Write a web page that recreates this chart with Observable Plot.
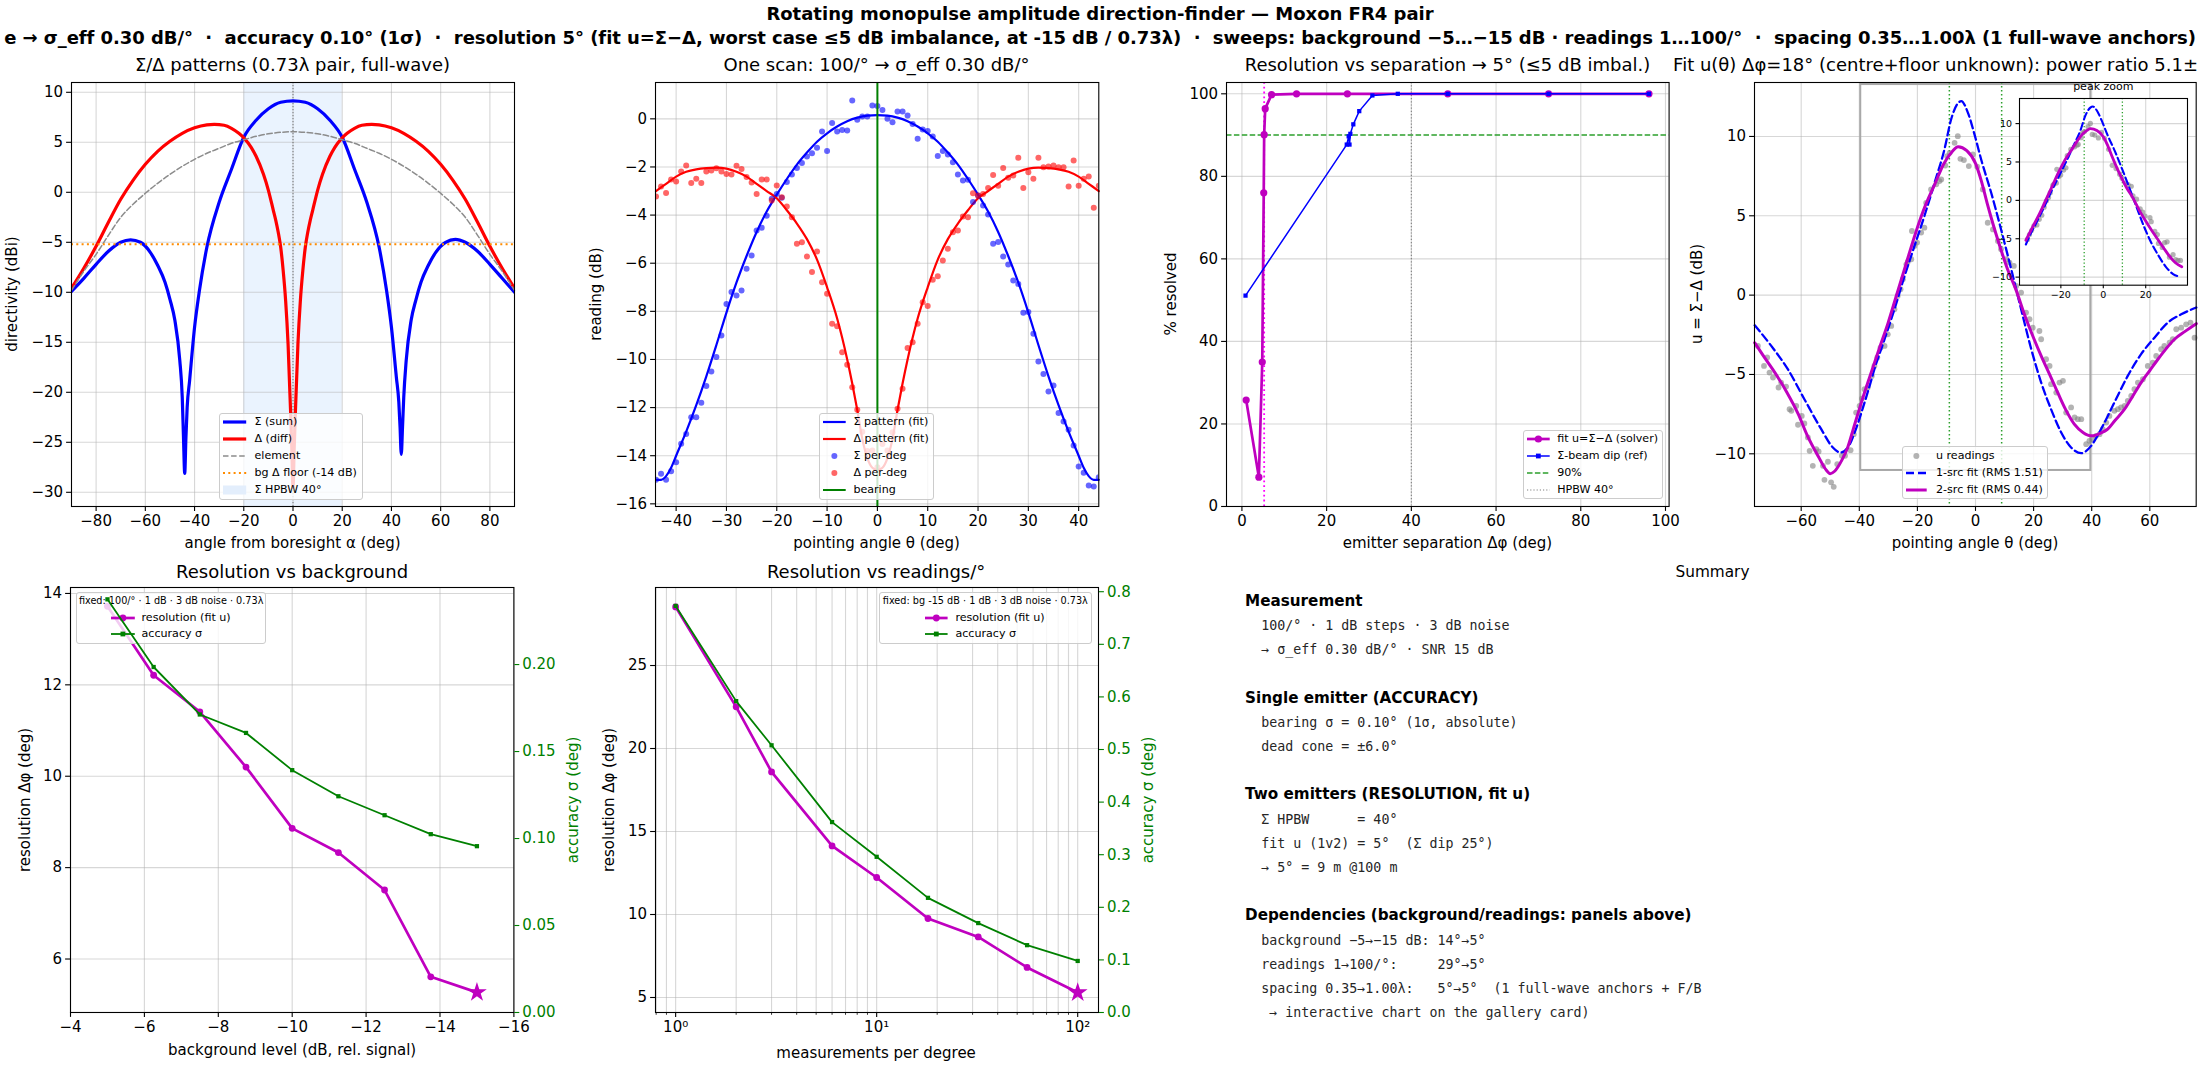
<!DOCTYPE html>
<html>
<head>
<meta charset="utf-8">
<script src="https://cdn.jsdelivr.net/npm/d3@7"></script>
<script src="https://cdn.jsdelivr.net/npm/@observablehq/plot@0.6"></script>
<style>
  html, body { margin: 0; padding: 0; background: #fff; overflow: hidden; }
  #fig { position: relative; width: 2200px; height: 1067px; overflow: hidden; background: #fff; font-family: "DejaVu Sans", sans-serif; color: #000; }
  .t { position: absolute; white-space: pre; line-height: 1; }
  .leg { position: absolute; box-sizing: border-box; border: 1px solid #cccccc; border-radius: 3px; background: rgba(255,255,255,0.8); }
</style>
</head>
<body>
<div id="fig"></div>
<script>
// ---------------- DATA ----------------
// Panel 1: Σ/Δ patterns
const sumAngle = [-90,-85,-80,-75,-70,-66,-62,-58,-55,-52,-50,-48,-46,-45,-44.5,-44,-43.5,-43,-42,-40,-38,-35,-30,-25,-20,-15,-10,-5,0,5,10,15,20,25,30,35,38,40,42,43,43.5,44,44.5,45,46,48,50,52,55,58,62,66,70,75,80,85,90];
const sumDb = [-9.9,-8.6,-7.2,-5.9,-5.0,-4.75,-5.0,-6.0,-7.3,-9.0,-10.7,-12.8,-16.8,-20.5,-24.5,-28.1,-24.5,-21.5,-18.8,-13.5,-9.8,-5.5,-1.0,2.3,5.5,7.2,8.35,9.0,9.15,9.0,8.35,7.2,5.5,2.3,-1.0,-5.5,-9.8,-13.5,-18.5,-21.0,-23.5,-26.2,-23.5,-20.5,-16.8,-12.8,-10.7,-9.0,-7.3,-6.0,-5.0,-4.7,-5.0,-5.9,-7.2,-8.6,-10.0];
const diffAngle = [-90,-85,-80,-75,-70,-65,-60,-55,-50,-45,-40,-35,-32,-28,-25,-22,-20,-17,-15,-12,-10,-8,-7,-6,-5,-4,-3,-2,-1,-0.5,0,0.5,1,2,3,4,5,6,7,8,10,12,15,17,20,22,25,28,32,35,40,45,50,55,60,65,70,75,80,85,90];
const diffDb = [-9.6,-7.6,-5.4,-3.0,-0.7,1.2,2.8,4.1,5.1,5.9,6.45,6.75,6.8,6.7,6.4,5.9,5.45,4.5,3.6,1.8,0.2,-1.8,-2.8,-4.0,-5.5,-7.8,-10.8,-15.2,-21.8,-25.5,-29.5,-25.5,-21.8,-15.2,-10.8,-7.8,-5.5,-4.0,-2.8,-1.8,0.2,1.8,3.6,4.5,5.45,5.9,6.4,6.7,6.8,6.75,6.45,5.9,5.1,4.1,2.8,1.2,-0.7,-3.0,-5.4,-7.6,-9.6];
const elemAngle = [-90,-85,-80,-75,-70,-65,-60,-55,-50,-45,-40,-35,-30,-25,-20,-15,-10,-5,0,5,10,15,20,25,30,35,40,45,50,55,60,65,70,75,80,85,90];
const elemDb = [-9.8,-7.9,-6.2,-4.3,-2.5,-1.2,-0.1,0.9,1.8,2.6,3.3,3.9,4.4,4.9,5.25,5.6,5.85,6.0,6.05,6.0,5.85,5.6,5.25,4.9,4.4,3.9,3.3,2.6,1.8,0.9,-0.1,-1.2,-2.5,-4.3,-6.2,-7.9,-9.8];
const bgFloor = [-5.2];
const hpbwBand = [-20, 20];
const boresight = [0];
const p1XTicks = [-80,-60,-40,-20,0,20,40,60,80];
const p1YTicks = [-30,-25,-20,-15,-10,-5,0,5,10];

// Panel 2: one scan
const scanAngle = [-44,-43,-42,-41,-40,-39,-38,-37,-36,-35,-34,-33,-32,-31,-30,-29,-28,-27,-26,-25,-24,-23,-22,-21,-20,-19,-18,-17,-16,-15,-14,-13,-12,-11,-10,-9,-8,-7,-6,-5,-4,-3,-2,-1,0,1,2,3,4,5,6,7,8,9,10,11,12,13,14,15,16,17,18,19,20,21,22,23,24,25,26,27,28,29,30,31,32,33,34,35,36,37,38,39,40,41,42,43,44];
const sumRead = [-15.0,-14.75,-15.0,-14.65,-14.27,-13.5,-13.1,-12.4,-12.4,-11.8,-11.1,-10.5,-9.9,-9.0,-7.7,-7.2,-7.34,-7.13,-6.23,-5.68,-4.64,-4.53,-4.03,-3.32,-3.12,-3.28,-2.63,-2.31,-2.04,-1.84,-1.57,-1.43,-1.2,-0.53,-1.34,-0.17,-0.53,-0.46,-0.48,0.76,-0.04,0.1,0.1,0.55,0.53,0.37,0.0,-0.14,0.3,0.3,0.14,-0.21,-0.83,-0.44,-0.51,-0.73,-1.54,-1.34,-1.48,-1.8,-2.31,-2.56,-2.53,-3.46,-3.19,-3.6,-3.98,-5.19,-5.12,-5.72,-6.05,-6.72,-6.86,-8.06,-8.03,-8.93,-10.08,-10.6,-11.33,-11.08,-12.22,-12.58,-12.92,-13.58,-14.45,-14.71,-15.24,-15.28,-14.9];
const diffRead = [-3.23,-2.81,-3.08,-2.52,-2.60,-2.19,-1.94,-2.67,-2.49,-2.67,-2.19,-2.15,-2.05,-2.19,-2.29,-2.31,-1.95,-2.08,-2.42,-2.65,-3.12,-2.52,-2.52,-3.39,-2.77,-3.26,-3.64,-4.09,-5.19,-5.13,-5.72,-6.37,-5.51,-6.79,-7.27,-8.52,-8.62,-9.70,-10.22,-11.15,-12.09,-13.0,-13.8,-13.78,-14.48,-13.51,-13.78,-13.02,-12.05,-11.22,-9.52,-9.28,-8.52,-7.62,-7.78,-6.69,-6.54,-5.89,-5.40,-4.71,-4.64,-4.06,-4.09,-3.09,-3.19,-3.12,-2.87,-2.33,-2.78,-2.04,-2.45,-2.35,-1.62,-2.87,-2.22,-2.49,-1.62,-2.01,-1.98,-1.94,-2.01,-2.01,-2.81,-1.73,-2.78,-2.49,-2.40,-3.70,-2.78];
const sumFitAngle = [-44,-43,-42,-41,-40,-38,-36,-34,-32,-30,-28,-26,-24,-22,-20,-18,-16,-14,-12,-10,-8,-6,-4,-2,0,2,4,6,8,10,12,14,16,18,20,22,24,26,28,30,32,34,36,38,40,41,42,43,44];
const sumFit = [-15.0,-15.0,-14.85,-14.5,-14.0,-13.0,-11.9,-10.7,-9.4,-8.05,-6.8,-5.7,-4.7,-3.85,-3.15,-2.5,-1.9,-1.4,-0.95,-0.6,-0.32,-0.1,0.05,0.13,0.15,0.13,0.05,-0.1,-0.32,-0.6,-0.95,-1.4,-1.9,-2.5,-3.15,-3.85,-4.7,-5.7,-6.8,-8.05,-9.4,-10.7,-11.9,-13.0,-14.0,-14.5,-14.85,-15.0,-15.0];
const diffFitAngle = [-44,-42,-40,-38,-36,-34,-32,-30,-28,-26,-24,-22,-20,-18,-16,-14,-12,-10,-8,-6,-5,-4,-3,-2,-1,0,1,2,3,4,5,6,8,10,12,14,16,18,20,22,24,26,28,30,32,34,36,38,40,42,44];
const diffFit = [-3.0,-2.7,-2.4,-2.2,-2.1,-2.05,-2.03,-2.07,-2.2,-2.4,-2.7,-3.0,-3.3,-3.8,-4.35,-5.0,-5.85,-7.0,-8.3,-10.0,-11.0,-12.1,-13.3,-14.1,-14.5,-14.6,-14.5,-14.1,-13.3,-12.1,-11.0,-10.0,-8.3,-7.0,-5.85,-5.0,-4.35,-3.8,-3.3,-3.0,-2.7,-2.4,-2.2,-2.07,-2.03,-2.05,-2.1,-2.2,-2.4,-2.7,-3.0];
const bearing = [0];
const p2XTicks = [-40,-30,-20,-10,0,10,20,30,40];
const p2YTicks = [-16,-14,-12,-10,-8,-6,-4,-2,0];

// Panel 3: resolution vs separation
const sepFit = [1.0,4.0,4.8,5.15,5.25,5.5,7.0,12.9,24.9,48.6,72.4,96.1];
const pctFit = [25.8,7.1,35.0,76.0,90.1,96.4,99.8,100,100,100,100,100];
const sepDip = [0.85,24.75,25.2,25.4,25.6,26.3,27.7,30.8,36.8,48.6,72.4,96.1];
const pctDip = [51.1,87.7,89.7,87.7,90.3,92.6,95.8,99.6,100,100,100,100];
const ref90 = [90];
const hpbwSep = [40];
const resSep = [5.25];
const p3XTicks = [0,20,40,60,80,100];
const p3YTicks = [0,20,40,60,80,100];

// Panel 4: fit u(θ)
const uTheta = [-74.9,-72.8,-71.7,-70.9,-69.7,-67.8,-66.9,-65.2,-64.0,-63.4,-61.7,-61.1,-59.8,-58.9,-57.7,-57.1,-56.0,-54.8,-54.0,-52.5,-52.0,-50.8,-49.7,-48.8,-47.6,-46.0,-44.9,-43.0,-41.9,-41.1,-39.9,-39.1,-38.2,-37.1,-35.7,-34.8,-33.8,-32.7,-31.3,-30.2,-29.0,-27.9,-26.8,-25.8,-25.0,-23.8,-23.3,-22.1,-21.9,-21.0,-20.1,-18.7,-17.6,-17.0,-15.3,-13.5,-12.4,-11.8,-10.4,-9.75,-8.9,-7.2,-6.1,-5.2,-4.0,-2.3,-0.9,0.6,2.5,4.2,6.0,7.7,8.8,10.6,11.7,13.2,14.0,15.7,17.4,18.6,19.7,22.0,22.6,24.3,25.5,26.0,27.8,28.9,30.1,31.2,32.9,34.1,35.2,36.4,38.1,39.2,40.4,41.5,42.7,43.8,45.0,46.1,47.8,49.0,50.1,51.3,52.4,53.6,54.7,55.9,57.6,59.3,61.0,62.2,63.9,65.0,66.8,67.9,69.1,70.8,72.5,74.0,75.4];
const uRead = [-3.2,-4.46,-3.93,-4.88,-5.19,-5.82,-5.51,-5.76,-7.19,-7.29,-6.98,-8.17,-7.61,-8.09,-8.97,-9.81,-10.76,-9.71,-9.85,-10.76,-11.64,-10.50,-11.80,-12.08,-10.65,-10.13,-10.13,-9.77,-8.76,-7.40,-6.98,-6.52,-5.93,-5.82,-5.09,-4.46,-3.93,-3.31,-3.20,-2.47,-1.94,-0.89,-0.05,0.37,1.0,1.94,2.11,2.26,4.04,3.10,3.31,3.94,4.25,5.82,6.66,6.98,7.19,7.29,8.17,8.76,8.97,9.60,10.02,8.59,8.51,8.13,8.87,8.09,6.66,4.56,4.14,3.41,2.89,2.26,2.05,1.84,0.58,0.16,-1.10,-1.52,-2.05,-2.26,-2.78,-4.04,-4.46,-5.61,-6.14,-5.51,-5.40,-7.40,-7.08,-7.71,-7.82,-7.82,-9.39,-9.18,-9.08,-8.87,-8.76,-8.45,-8.03,-7.61,-7.29,-7.19,-7.08,-6.98,-6.66,-6.35,-5.93,-5.51,-5.30,-4.46,-4.25,-3.83,-3.41,-3.20,-2.99,-2.78,-2.15,-2.05,-1.84,-1.73,-2.68];
const fit1Theta = [-76,-70.3,-64.6,-58.9,-53.1,-49.1,-46.5,-43.9,-41.6,-38.2,-36.5,-34.8,-31.3,-27.9,-24.4,-21.0,-17.6,-14.1,-10.7,-8.4,-6.1,-4.9,-2.6,-0.3,1.95,5.4,8.8,12.3,15.7,19.2,22.6,26.0,29.5,32.9,36.4,39.8,43.2,47.8,52.4,57.0,61.6,66.2,70.8,76];
const fit1U = [-1.9,-3.2,-4.67,-6.56,-8.45,-9.6,-9.92,-9.6,-8.66,-6.77,-5.75,-4.67,-2.78,-0.89,1.21,3.1,4.98,7.08,9.18,11.07,12.08,12.23,11.49,10.1,8.55,6.45,4.14,1.63,-0.89,-3.41,-5.51,-7.19,-8.66,-9.6,-9.96,-9.5,-8.45,-6.77,-5.09,-3.72,-2.68,-1.73,-1.21,-0.78];
const fit2Theta = [-76,-72,-69,-65,-61,-58,-54,-51.5,-50,-48.5,-46,-44,-42,-39,-36.5,-33,-30,-27.5,-24,-21,-18,-14,-11,-8,-6,-3,0,2,4,6,8,11,14,17,20,22.6,25.5,28.3,31,34,37,40,43,45.5,48,51.3,54,57,60,62.8,65.5,68.5,72,76];
const fit2U = [-3.0,-4.1,-4.9,-6.1,-7.5,-8.8,-10.2,-11.0,-11.25,-11.1,-10.4,-9.6,-8.4,-6.6,-5.2,-3.3,-1.7,-0.2,1.9,3.7,5.3,7.0,8.25,9.05,9.35,9.1,8.3,7.2,5.8,4.5,3.3,1.65,0.3,-1.3,-2.7,-3.83,-5.0,-6.14,-7.2,-8.13,-8.65,-8.87,-8.7,-8.45,-7.9,-7.19,-6.4,-5.51,-4.75,-4.04,-3.4,-2.78,-2.3,-1.8];
const emitters = [-9, 9];
const insetX = [-39.5, 39.7];
const insetY = [-11.05, 13.27];
const insetRange = [-36.5, 37];
const p4XTicks = [-60,-40,-20,0,20,40,60];
const p4YTicks = [-10,-5,0,5,10];
const inXTicks = [-20,0,20];
const inYTicks = [-10,-5,0,5,10];

// Bottom-left: resolution vs background
const bgLevel = [-5,-6.25,-7.5,-8.75,-10,-11.25,-12.5,-13.75,-15];
const bgRes = [13.72,12.21,11.41,10.20,8.86,8.33,7.51,5.61,5.27];
const bgAcc = [0.2375,0.1986,0.1713,0.1607,0.1393,0.1243,0.1134,0.1025,0.0956];
const b1XTicks = [-4,-6,-8,-10,-12,-14,-16];
const b1YTicks = [6,8,10,12,14];
const b1RTicks = [0,0.05,0.10,0.15,0.20];

// Bottom-middle: resolution vs readings/°
const rdN = [1,2,3,6,10,18,32,56,100];
const rdRes = [28.53,22.51,18.59,14.13,12.23,9.76,8.65,6.81,5.30];
const rdAcc = [0.773,0.592,0.508,0.362,0.296,0.218,0.170,0.128,0.098];
const b2Major = [1,10,100];
const b2Minor = [0.8,0.9,2,3,4,5,6,7,8,9,20,30,40,50,60,70,80,90];
const b2YTicks = [5,10,15,20,25];
const b2RTicks = [0,0.1,0.2,0.3,0.4,0.5,0.6,0.7,0.8];

// Texts
const title1 = "Rotating monopulse amplitude direction-finder — Moxon FR4 pair";
const title2 = "e → σ_eff 0.30 dB/°  ·  accuracy 0.10° (1σ)  ·  resolution 5° (fit u=Σ−Δ, worst case ≤5 dB imbalance, at -15 dB / 0.73λ)  ·  sweeps: background −5…−15 dB · readings 1…100/°  ·  spacing 0.35…1.00λ (1 full-wave anchors)";
const p4Title = "Fit u(θ) Δφ=18° (centre+floor unknown): power ratio 5.1±";
const summarySections = [
  {head: "Measurement", lines: ["100/° · 1 dB steps · 3 dB noise", "→ σ_eff 0.30 dB/° · SNR 15 dB"]},
  {head: "Single emitter (ACCURACY)", lines: ["bearing σ = 0.10° (1σ, absolute)", "dead cone = ±6.0°"]},
  {head: "Two emitters (RESOLUTION, fit u)", lines: ["Σ HPBW      = 40°", "fit u (1v2) = 5°  (Σ dip 25°)", "→ 5° = 9 m @100 m"]},
  {head: "Dependencies (background/readings: panels above)", lines: ["background −5→−15 dB: 14°→5°", "readings 1→100/°:     29°→5°", "spacing 0.35→1.00λ:   5°→5°  (1 full-wave anchors + F/B", " → interactive chart on the gallery card)"]}
];

// ---------------- RENDERING ----------------
const fig = document.getElementById("fig");
const SANS = '"DejaVu Sans", sans-serif';
const MONO = '"DejaVu Sans Mono", monospace';
const FS = 15, TS = 18, LS = 11.1;
const BLUE = "#0000ff", RED = "#ff0000", MAG = "#bf00bf", GRN = "#008000", TGRN = "#2ca02c";
const fmtI = d3.format("d");
const GRID = {stroke: "#b0b0b0", strokeOpacity: 0.5, strokeWidth: 1.1};
const AX = {tickSize: 4.9, tickPadding: 3.5, strokeWidth: 1.1, label: null};

function txt(s, x, y, o = {}) {
  const d = document.createElement("div");
  d.className = "t";
  d.textContent = s;
  d.style.left = x + "px";
  d.style.top = y + "px";
  d.style.fontSize = (o.size || FS) + "px";
  d.style.fontFamily = o.family || SANS;
  d.style.fontWeight = o.weight || "normal";
  d.style.color = o.color || "#000";
  const a = o.anchor || "middle";
  const tx = a === "middle" ? "-50%" : a === "end" ? "-100%" : "0";
  d.style.transform = `translate(${tx},-50%)` + (o.rot ? " rotate(-90deg)" : "");
  fig.appendChild(d);
  return d;
}

function panel(o) {
  const ml = o.ml ?? 60, mr = o.mr ?? 60, mt = o.mt ?? 10, mb = o.mb ?? 40;
  const svg = Plot.plot({
    width: o.W + ml + mr, height: o.H + mt + mb,
    marginLeft: ml, marginRight: mr, marginTop: mt, marginBottom: mb,
    x: {label: null, ...o.x}, y: {label: null, ...o.y},
    style: {fontFamily: SANS, fontSize: (o.fs || FS) + "px", background: "transparent", overflow: "visible", maxWidth: "none", color: "#000"},
    marks: o.marks
  });
  svg.style.position = "absolute";
  svg.style.left = (o.L - ml) + "px";
  svg.style.top = (o.T - mt) + "px";
  fig.appendChild(svg);
  return svg;
}
const axX = (ticks, fmt = fmtI, o = {}) => Plot.axisX({...AX, ticks, tickFormat: fmt, ...o});
const axY = (ticks, fmt = fmtI, o = {}) => Plot.axisY({...AX, ticks, tickFormat: fmt, ...o});
const grX = ticks => Plot.gridX(ticks, GRID);
const grY = ticks => Plot.gridY(ticks, GRID);
const frame = () => Plot.frame({stroke: "#000", strokeWidth: 1.1});

function swatch(it, x1, x2, y) {
  const w = x2 - x1, h = 16, c = h / 2;
  let s = `<svg xmlns="http://www.w3.org/2000/svg" width="${w}" height="${h}" style="position:absolute;left:${x1}px;top:${y - c}px;overflow:visible">`;
  if (it.rect) s += `<rect x="0" y="${c - 4.5}" width="${w}" height="9" fill="${it.rect}"/>`;
  if (it.line) s += `<line x1="0" y1="${c}" x2="${w}" y2="${c}" stroke="${it.color}" stroke-width="${it.sw}"${it.dash ? ` stroke-dasharray="${it.dash}"` : ""}/>`;
  if (it.marker === "circle") s += `<circle cx="${w / 2}" cy="${c}" r="${it.mr}" fill="${it.mcolor || it.color}" fill-opacity="${it.mop ?? 1}"/>`;
  if (it.marker === "square") s += `<rect x="${w / 2 - it.mr}" y="${c - it.mr}" width="${2 * it.mr}" height="${2 * it.mr}" fill="${it.mcolor || it.color}"/>`;
  s += `</svg>`;
  const tmp = document.createElement("div");
  tmp.innerHTML = s;
  fig.appendChild(tmp.firstChild);
}
function legend(box, items, o) {
  const d = document.createElement("div");
  d.className = "leg";
  Object.assign(d.style, {left: box[0] + "px", top: box[1] + "px", width: (box[2] - box[0]) + "px", height: (box[3] - box[1]) + "px"});
  fig.appendChild(d);
  if (o.title) txt(o.title, (box[0] + box[2]) / 2, o.titleY, {size: o.titleSize});
  items.forEach((it, i) => {
    const y = o.rowY[i];
    swatch(it, o.sx[0], o.sx[1], y);
    txt(it.label, o.tx, y, {size: o.size || LS, anchor: "start"});
  });
}

// ---- Suptitle
txt(title1, 1100, 14, {size: 18, weight: "bold"});
const t2 = txt(title2, 1100, 38, {size: 18, weight: "bold"});
{
  const w = t2.getBoundingClientRect().width;
  const ls = Math.max(-1.2, Math.min(1.2, (2190 - w) / title2.length));
  t2.style.letterSpacing = ls + "px";
}

// ---- Panel 1
const P1 = {L: 71, T: 82, W: 443, H: 424};
panel({...P1, x: {domain: [-90, 90]}, y: {domain: [-31.42, 10.98]}, marks: [
  Plot.rect([hpbwBand], {x1: d => d[0], x2: d => d[1], y1: () => -31.42, y2: () => 10.98, fill: "#eaf3fe"}),
  grX(p1XTicks), grY(p1YTicks),
  Plot.ruleX(boresight, {stroke: "#000", strokeOpacity: 0.55, strokeWidth: 0.9, strokeDasharray: "1.2,1.8"}),
  Plot.line(sumAngle, {x: sumAngle, y: sumDb, stroke: BLUE, strokeWidth: 3.2, curve: "monotone-x", clip: true}),
  Plot.line(diffAngle, {x: diffAngle, y: diffDb, stroke: RED, strokeWidth: 3.2, curve: "monotone-x", clip: true}),
  Plot.line(elemAngle, {x: elemAngle, y: elemDb, stroke: "#8c8c8c", strokeWidth: 1.5, strokeDasharray: "5.5,2.6", curve: "monotone-x"}),
  Plot.ruleY(bgFloor, {stroke: "#ff8c00", strokeWidth: 2, strokeDasharray: "2,3.3"}),
  axX(p1XTicks), axY(p1YTicks), frame()
]});
txt("Σ/Δ patterns (0.73λ pair, full-wave)", 292.5, 65, {size: TS});
txt("directivity (dBi)", 12.1, 294, {rot: true});
txt("angle from boresight α (deg)", 292.5, 543.3);
legend([219.1, 412.7, 363.5, 500], [
  {label: "Σ (sum)", line: true, color: BLUE, sw: 3.2},
  {label: "Δ (diff)", line: true, color: RED, sw: 3.2},
  {label: "element", line: true, color: "#8c8c8c", sw: 1.5, dash: "5.5,2.6"},
  {label: "bg Δ floor (-14 dB)", line: true, color: "#ff8c00", sw: 2, dash: "2,3.3"},
  {label: "Σ HPBW 40°", rect: "#e3eefc"}
], {rowY: [422.3, 439.2, 456.1, 473, 489.9], sx: [223.3, 246.5], tx: 254.5});

// ---- Panel 2
const P2 = {L: 654.9, T: 82, W: 443.3, H: 424};
panel({...P2, x: {domain: [-44.1, 44.0]}, y: {domain: [-16.11, 1.51]}, marks: [
  grX(p2XTicks), grY(p2YTicks),
  Plot.line(sumFitAngle, {x: sumFitAngle, y: sumFit, stroke: BLUE, strokeWidth: 2.2, curve: "monotone-x"}),
  Plot.line(diffFitAngle, {x: diffFitAngle, y: diffFit, stroke: RED, strokeWidth: 2.2, curve: "monotone-x"}),
  Plot.dot(scanAngle, {x: scanAngle, y: sumRead, r: 3, fill: BLUE, fillOpacity: 0.6, clip: true}),
  Plot.dot(scanAngle, {x: scanAngle, y: diffRead, r: 3, fill: RED, fillOpacity: 0.6, clip: true}),
  Plot.ruleX(bearing, {stroke: GRN, strokeWidth: 2}),
  axX(p2XTicks), axY(p2YTicks), frame()
]});
txt("One scan: 100/° → σ_eff 0.30 dB/°", 876.5, 65, {size: TS});
txt("reading (dB)", 595.6, 294, {rot: true});
txt("pointing angle θ (deg)", 876.5, 543.3);
legend([819, 412.7, 933.8, 500], [
  {label: "Σ pattern (fit)", line: true, color: BLUE, sw: 2.2},
  {label: "Δ pattern (fit)", line: true, color: RED, sw: 2.2},
  {label: "Σ per-deg", marker: "circle", color: BLUE, mr: 3, mop: 0.6},
  {label: "Δ per-deg", marker: "circle", color: RED, mr: 3, mop: 0.6},
  {label: "bearing", line: true, color: GRN, sw: 2}
], {rowY: [422.3, 439.2, 456.1, 473, 489.9], sx: [822.5, 845.2], tx: 853.4});

// ---- Panel 3
const P3 = {L: 1226.2, T: 82, W: 442.6, H: 424};
panel({...P3, x: {domain: [-3.64, 100.85]}, y: {domain: [0, 102.74]}, marks: [
  grX(p3XTicks), grY(p3YTicks),
  Plot.ruleY(ref90, {stroke: TGRN, strokeWidth: 1.6, strokeDasharray: "5.5,2.4"}),
  Plot.ruleX(hpbwSep, {stroke: "#808080", strokeWidth: 1.1, strokeDasharray: "1.2,2"}),
  Plot.ruleX(resSep, {stroke: "#ff00ff", strokeWidth: 1.8, strokeDasharray: "1.8,3"}),
  Plot.line(sepFit, {x: sepFit, y: pctFit, stroke: MAG, strokeWidth: 2.7}),
  Plot.dot(sepFit, {x: sepFit, y: pctFit, r: 3.6, fill: MAG}),
  Plot.line(sepDip, {x: sepDip, y: pctDip, stroke: BLUE, strokeWidth: 1.5}),
  Plot.dot(sepDip, {x: sepDip, y: pctDip, symbol: "square", r: 2.4, fill: BLUE}),
  axX(p3XTicks), axY(p3YTicks), frame()
]});
txt("Resolution vs separation → 5° (≤5 dB imbal.)", 1447.5, 65, {size: TS});
txt("% resolved", 1170.5, 294, {rot: true});
txt("emitter separation Δφ (deg)", 1447.5, 543.3);
legend([1523, 430, 1663.4, 499.3], [
  {label: "fit u=Σ−Δ (solver)", line: true, color: MAG, sw: 2.7, marker: "circle", mr: 3.6},
  {label: "Σ-beam dip (ref)", line: true, color: BLUE, sw: 1.5, marker: "square", mr: 2.4},
  {label: "90%", line: true, color: TGRN, sw: 1.6, dash: "5.5,2.4"},
  {label: "HPBW 40°", line: true, color: "#808080", sw: 1.1, dash: "1.2,2"}
], {rowY: [439.2, 456.1, 473, 489.9], sx: [1526.6, 1549.3], tx: 1557.2});

// ---- Panel 4
const P4 = {L: 1754, T: 82, W: 441.7, H: 424};
const inIdx = arr => arr.map((t, i) => i).filter(i => arr[i] >= insetRange[0] && arr[i] <= insetRange[1]);
const uIdx = inIdx(uTheta), f1Idx = inIdx(fit1Theta), f2Idx = inIdx(fit2Theta);
panel({...P4, x: {domain: [-76.07, 75.96]}, y: {domain: [-13.32, 13.4]}, marks: [
  grX(p4XTicks), grY(p4YTicks),
  Plot.rect([insetX], {x1: () => insetX[0], x2: () => insetX[1], y1: () => insetY[0], y2: () => insetY[1], fill: "none", stroke: "#a8a8a8", strokeWidth: 2}),
  Plot.ruleX(emitters, {stroke: TGRN, strokeWidth: 1.5, strokeDasharray: "1.5,2.5"}),
  Plot.dot(uTheta, {x: uTheta, y: uRead, r: 2.9, fill: "#808080", fillOpacity: 0.6}),
  Plot.line(fit1Theta, {x: fit1Theta, y: fit1U, stroke: BLUE, strokeWidth: 2.3, strokeDasharray: "8,4", curve: "monotone-x"}),
  Plot.line(fit2Theta, {x: fit2Theta, y: fit2U, stroke: MAG, strokeWidth: 3, curve: "monotone-x"}),
  axX(p4XTicks), axY(p4YTicks), frame()
]});
txt(p4Title, 2198, 65, {size: TS, anchor: "end"});
txt("u = Σ−Δ (dB)", 1696.7, 294, {rot: true});
txt("pointing angle θ (deg)", 1975, 543.3);
legend([1901.7, 445.7, 2047.7, 499.3], [
  {label: "u readings", marker: "circle", color: "#808080", mr: 3, mop: 0.6},
  {label: "1-src fit (RMS 1.51)", line: true, color: BLUE, sw: 2.3, dash: "8,4"},
  {label: "2-src fit (RMS 0.44)", line: true, color: MAG, sw: 3}
], {rowY: [456.4, 473, 489.9], sx: [1906, 1926.7], tx: 1936});

// ---- Inset (peak zoom)
panel({L: 2019.3, T: 98.3, W: 168, H: 186.7, ml: 34, mr: 6, mt: 6, mb: 22, fs: 9.5,
  x: {domain: insetX}, y: {domain: insetY}, marks: [
  Plot.frame({fill: "#ffffff"}),
  grX(inXTicks), grY(inYTicks),
  Plot.ruleX(emitters, {stroke: TGRN, strokeWidth: 1.3, strokeDasharray: "1.3,2.2"}),
  Plot.dot(uIdx, {x: i => uTheta[i], y: i => uRead[i], r: 2.6, fill: "#808080", fillOpacity: 0.6}),
  Plot.line(f1Idx, {x: i => fit1Theta[i], y: i => fit1U[i], stroke: BLUE, strokeWidth: 2.1, strokeDasharray: "7,3.6", curve: "monotone-x"}),
  Plot.line(f2Idx, {x: i => fit2Theta[i], y: i => fit2U[i], stroke: MAG, strokeWidth: 2.8, curve: "monotone-x"}),
  axX(inXTicks, fmtI, {tickSize: 3.5, tickPadding: 3}), axY(inYTicks, fmtI, {tickSize: 3.5, tickPadding: 4}), frame()
]});
txt("peak zoom", 2103.3, 86, {size: 11});

// ---- Bottom-left
const B1 = {L: 70.4, T: 587.3, W: 443.4, H: 425};
panel({...B1, x: {domain: [-16, -4], reverse: true}, y: {domain: [4.83, 14.13]}, marks: [
  grX(b1XTicks), grY(b1YTicks),
  Plot.line(bgLevel, {x: bgLevel, y: bgRes, stroke: MAG, strokeWidth: 2.7}),
  Plot.dot(bgLevel, {x: bgLevel, y: bgRes, r: 3.4, fill: MAG}),
  Plot.dot([bgLevel.length - 1], {x: i => bgLevel[i], y: i => bgRes[i], symbol: "star", r: 6.2, fill: MAG}),
  axX(b1XTicks), axY(b1YTicks), frame()
]});
legend([75.8, 592.3, 266.5, 644.3], [
  {label: "resolution (fit u)", line: true, color: MAG, sw: 2.7, marker: "circle", mr: 3.4},
  {label: "accuracy σ", line: true, color: GRN, sw: 1.8, marker: "square", mr: 2.4}
], {title: "fixed: 100/° · 1 dB · 3 dB noise · 0.73λ", titleY: 601, titleSize: 9.7, rowY: [617.7, 634.3], sx: [110.8, 134.6], tx: 141.5, size: 11.1});
panel({...B1, x: {domain: [-16, -4], reverse: true, axis: null}, y: {domain: [0, 0.2443]}, marks: [
  Plot.line(bgLevel, {x: bgLevel, y: bgAcc, stroke: GRN, strokeWidth: 1.8}),
  Plot.dot(bgLevel, {x: bgLevel, y: bgAcc, symbol: "square", r: 2.4, fill: GRN}),
  Plot.axisY({...AX, anchor: "right", ticks: b1RTicks, tickFormat: d3.format(".2f"), color: GRN})
]});
txt("Resolution vs background", 292.1, 571.7, {size: TS});
txt("resolution Δφ (deg)", 25, 799.8, {rot: true});
txt("accuracy σ (deg)", 573, 799.8, {rot: true, color: GRN});
txt("background level (dB, rel. signal)", 292.1, 1050);

// ---- Bottom-middle
const B2 = {L: 654.6, T: 587.3, W: 443, H: 425};
const sup = {"0": "⁰", "1": "¹", "2": "²"};
const fmtPow = d => "10" + String(Math.round(Math.log10(d))).split("").map(c => sup[c]).join("");
panel({...B2, x: {type: "log", domain: [0.794, 126.9]}, y: {domain: [4.096, 29.7]}, marks: [
  grX(b2Major.concat(b2Minor)), grY(b2YTicks),
  Plot.line(rdN, {x: rdN, y: rdRes, stroke: MAG, strokeWidth: 2.7}),
  Plot.dot(rdN, {x: rdN, y: rdRes, r: 3.4, fill: MAG}),
  Plot.dot([rdN.length - 1], {x: i => rdN[i], y: i => rdRes[i], symbol: "star", r: 6.2, fill: MAG}),
  axX(b2Major, fmtPow),
  Plot.axisX({...AX, ticks: b2Minor, tickSize: 2.8, strokeWidth: 0.8, tickFormat: () => ""}),
  axY(b2YTicks), frame()
]});
legend([878.9, 592.3, 1091.8, 644.3], [
  {label: "resolution (fit u)", line: true, color: MAG, sw: 2.7, marker: "circle", mr: 3.4},
  {label: "accuracy σ", line: true, color: GRN, sw: 1.8, marker: "square", mr: 2.4}
], {title: "fixed: bg -15 dB · 1 dB · 3 dB noise · 0.73λ", titleY: 601, titleSize: 9.7, rowY: [617.7, 634.3], sx: [924.9, 947.5], tx: 955.4, size: 11.1});
panel({...B2, x: {type: "log", domain: [0.794, 126.9], axis: null}, y: {domain: [0, 0.808]}, marks: [
  Plot.line(rdN, {x: rdN, y: rdAcc, stroke: GRN, strokeWidth: 1.8}),
  Plot.dot(rdN, {x: rdN, y: rdAcc, symbol: "square", r: 2.4, fill: GRN}),
  Plot.axisY({...AX, anchor: "right", ticks: b2RTicks, tickFormat: d3.format(".1f"), color: GRN})
]});
txt("Resolution vs readings/°", 876.1, 571.7, {size: TS});
txt("resolution Δφ (deg)", 609, 799.8, {rot: true});
txt("accuracy σ (deg)", 1147.5, 799.8, {rot: true, color: GRN});
txt("measurements per degree", 876.1, 1053.3);

// ---- Summary
txt("Summary", 1712.5, 572.7, {size: 15.3});
{
  let y = 601.7;
  const step = 24.2;
  for (const sec of summarySections) {
    txt(sec.head, 1245.1, y, {size: 15.2, weight: "bold", anchor: "start"});
    y += step;
    for (const line of sec.lines) {
      txt(line, 1261.3, y, {size: 13.3, family: MONO, anchor: "start", color: "#262626"});
      y += step;
    }
    y += step;
  }
}
</script>
</body>
</html>
